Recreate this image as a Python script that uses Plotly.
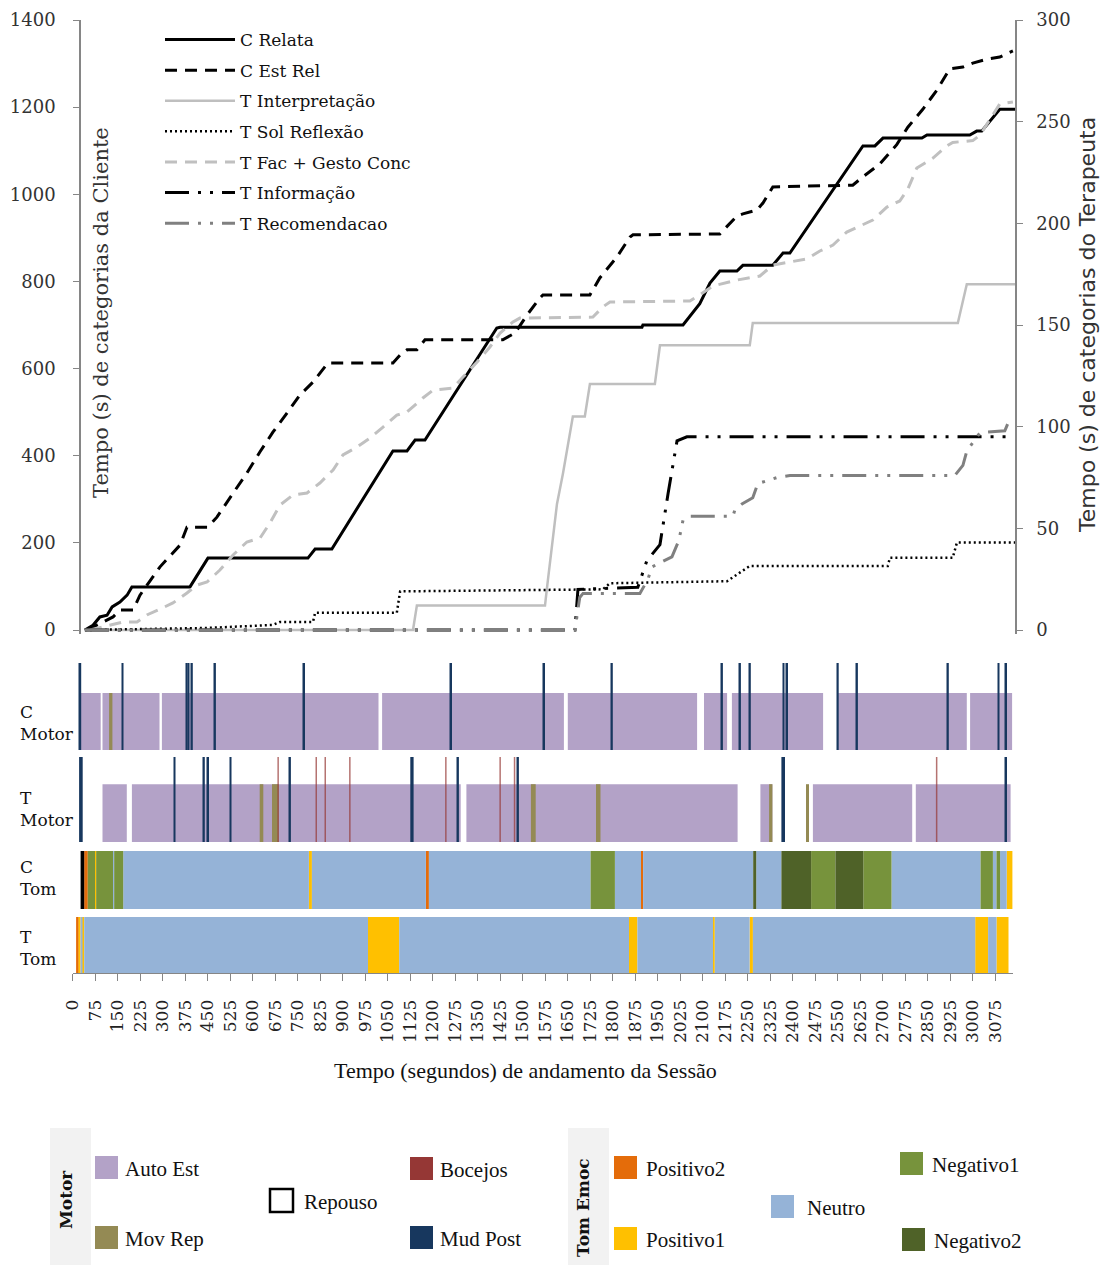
import plotly.graph_objects as go

# ---------------- cumulative time per category (upper panel) ----------------
# client categories (left axis, seconds)
c_relata_t = [13, 40, 63, 87, 104, 130, 154, 170, 364, 424, 758, 782, 838, 1042, 1089, 1116, 1149, 1389, 1400,
              1874, 1877, 2011, 2067, 2101, 2134, 2191, 2211, 2311, 2345, 2368, 2612, 2652, 2679, 2809, 2826,
              2969, 2992, 3009, 3069, 3120]
c_relata_v = [0, 11, 30, 34, 53, 64, 80, 99, 99, 165, 165, 186, 186, 411, 411, 436, 436, 693, 695,
              695, 700, 700, 749, 796, 824, 824, 837, 837, 865, 865, 1111, 1111, 1129, 1129, 1136,
              1136, 1145, 1145, 1195, 1195]

c_est_rel_t = [20, 107, 130, 174, 197, 264, 331, 354, 424, 454, 508, 554, 598, 641, 688, 731, 775, 825, 1042, 1066,
               1089, 1122, 1149, 1409, 1450, 1490, 1533, 1543, 1700, 1733, 1790, 1834, 1844, 2134, 2191,
               2211, 2258, 2278, 2311, 2578, 2612, 2669, 2725, 2762, 2812, 2859, 2902, 2946, 2979, 3026,
               3069, 3113]
c_est_rel_v = [0, 30, 46, 46, 80, 145, 195, 236, 236, 259, 314, 360, 409, 454, 498, 539, 569, 613, 613, 631,
               643, 643, 666, 666, 682, 723, 762, 769, 769, 808, 856, 902, 907, 909, 950,
               955, 964, 980, 1017, 1021, 1040, 1070, 1114, 1154, 1195, 1239, 1288, 1292, 1301, 1310,
               1315, 1329]

# therapist categories (right axis, seconds)
t_interp_t = [13, 1109, 1122, 1550, 1556, 1590, 1610, 1633, 1643, 1683, 1700, 1917, 1934, 2234, 2244, 2929, 2959, 3120]
t_interp_v = [0, 0, 12, 12, 20, 62, 77, 97, 105, 105, 121, 121, 140, 140, 151, 151, 170, 170]

t_sol_t = [13, 421, 641, 665, 775, 782, 1055, 1066, 1743, 1767, 2158, 2201, 2234, 2695, 2702, 2912, 2926, 3120]
t_sol_v = [0, 1, 2.5, 4, 4, 8.5, 8.5, 19, 20, 23, 24, 28, 31.5, 31.5, 35.5, 35.5, 43, 43]

t_fac_t = [30, 120, 140, 187, 220, 264, 307, 354, 387, 421, 464, 508, 554, 598, 631, 665, 708, 755, 798, 842,
           875, 922, 965, 1009, 1055, 1089, 1142, 1176, 1242, 1276, 1323, 1366, 1400, 1443, 1466, 1710, 1743,
           1767, 2034, 2067, 2101, 2111, 2191, 2268, 2311, 2391, 2425, 2468, 2512, 2558, 2602, 2645, 2692,
           2735, 2762, 2792, 2846, 2892, 2912, 2979, 3003, 3036, 3069, 3113]
t_fac_v = [0, 3.4, 3.9, 3.9, 7.4, 10.3, 13.3, 18.2, 22.1, 23.6, 29.5, 36.9, 43.3, 45.2, 52.6, 61.5, 66.4, 67.4,
           72.3, 78.7, 86.1, 90, 94.4, 99.8, 105.7, 107.2, 114.1, 118, 119, 124.4, 131.8, 139.2, 146, 151.5,
           153.4, 153.9, 158.9, 161.3, 161.8, 164.8, 168.2, 169.2, 172.1, 174.1, 179.5, 181.5, 182.5, 186.4,
           189.3, 195.7, 198.7, 201.6, 208, 211, 216.9, 227.2, 232.1, 238, 239.8, 240.7, 243.4, 251.3, 258.7,
           259.7]

t_info_t = [13, 1650, 1660, 1860, 1890, 1934, 1961, 1991, 2024, 3093]
t_info_v = [0, 0, 20, 21, 34, 42, 67, 93, 95, 95]

t_recom_t = [13, 1650, 1666, 1677, 1867, 1894, 1907, 1974, 1997, 2011, 2034, 2178, 2184, 2208, 2244, 2261,
             2325, 2368, 2919, 2936, 2946, 2959, 3003, 3086, 3103]
t_recom_v = [0, 0, 16, 18, 18, 25, 31, 36, 44, 54, 56, 56, 59, 62, 65, 72, 75, 76, 76, 79, 81, 88, 97, 98, 104]

# ---------------- coded behaviour timelines (lower panel), [start, end] in s ----------------
c_motor_auto_est = [(25, 94), (100, 290), (298, 1020), (1032, 1638), (1651, 2082), (2105, 2182),
                    (2198, 2502), (2551, 2981), (2992, 3132)]
c_motor_mov_rep = [(122, 133)]
c_motor_mud_post = [(23, 29), (164, 170), (378, 384), (385, 390), (395, 401), (472, 478), (769, 775),
                    (1259, 1265), (1569, 1575), (1795, 1801), (2162, 2168), (2222, 2228), (2255, 2261),
                    (2367, 2373), (2379, 2385), (2548, 2554), (2612, 2618), (2915, 2921), (3084, 3090),
                    (3109, 3115)]

t_motor_auto_est = [(100, 181), (198, 1294), (1313, 2217), (2293, 2333), (2468, 2799), (2811, 3127)]
t_motor_mov_rep = [(624, 636), (665, 687), (1528, 1544), (1745, 1760), (2322, 2333), (2445, 2455)]
t_motor_mud_post = [(22, 34), (337, 343), (435, 441), (449, 455), (524, 530), (722, 728), (1126, 1137),
                    (1282, 1288), (1482, 1488), (2363, 2375), (3109, 3115)]
t_motor_bocejos = [(683, 688), (810, 815), (840, 845), (922, 927), (1242, 1247), (1423, 1428),
                   (1471, 1476), (2878, 2883)]

c_tom = [(27, 39, "Indefinido"), (39, 51, "Positivo2"), (51, 75, "Negativo1"), (75, 79, "Positivo1"),
         (79, 135, "Negativo1"), (135, 139, "Neutro"), (139, 169, "Negativo1"), (169, 788, "Neutro"),
         (788, 798, "Positivo1"), (798, 1178, "Neutro"), (1178, 1188, "Positivo2"), (1188, 1727, "Neutro"),
         (1727, 1808, "Negativo1"), (1808, 1895, "Neutro"), (1895, 1902, "Positivo2"), (1902, 2269, "Neutro"),
         (2269, 2279, "Negativo2"), (2279, 2363, "Neutro"), (2363, 2462, "Negativo2"), (2462, 2543, "Negativo1"),
         (2543, 2636, "Negativo2"), (2636, 2730, "Negativo1"), (2730, 3027, "Neutro"), (3027, 3068, "Negativo1"),
         (3068, 3080, "Neutro"), (3080, 3092, "Negativo1"), (3092, 3114, "Neutro"), (3114, 3133, "Positivo1")]

t_tom = [(12, 21, "Positivo2"), (21, 27, "Positivo1"), (27, 31, "Neutro"), (31, 39, "Positivo1"),
         (39, 985, "Neutro"), (985, 1089, "Positivo1"), (1089, 1855, "Neutro"), (1855, 1883, "Positivo1"),
         (1883, 2135, "Neutro"), (2135, 2141, "Positivo1"), (2141, 2257, "Neutro"), (2257, 2268, "Positivo1"),
         (2268, 3009, "Neutro"), (3009, 3052, "Positivo1"), (3052, 3080, "Neutro"), (3080, 3120, "Positivo1")]

# x tick labels of the session time axis
session_ticks = list(range(0, 3076, 75))
session_ticktext = [str(v) for v in session_ticks]

motor_colors = {"Auto Est": "#B3A2C7", "Mov Rep": "#948A54", "Repouso": "#FFFFFF",
                "Bocejos": "#953735", "Mud Post": "#17375E"}
tom_colors = {"Positivo2": "#E46C0A", "Positivo1": "#FFC000", "Neutro": "#95B3D7",
              "Negativo1": "#77933C", "Negativo2": "#4F6228", "Indefinido": "#000000"}

W, H = 1105, 1265
px_x = lambda p: p / W
px_y = lambda p: 1 - p / H

SERIF = "DejaVu Serif"
fig = go.Figure()

# ---------------- upper panel lines ----------------
lines = [
    ("C Relata", c_relata_t, c_relata_v, "y", "#000000", "solid", 3),
    ("C Est Rel", c_est_rel_t, c_est_rel_v, "y", "#000000", "12px,8px", 3),
    ("T Interpretação", t_interp_t, t_interp_v, "y2", "#BFBFBF", "solid", 2.5),
    ("T Sol Reflexão", t_sol_t, t_sol_v, "y2", "#000000", "2px,3px", 2.5),
    ("T Fac + Gesto Conc", t_fac_t, t_fac_v, "y2", "#C0C0C0", "12px,8px", 3),
    ("T Informação", t_info_t, t_info_v, "y2", "#000000", "24px,9px,3px,9px,3px,9px", 3),
    ("T Recomendacao", t_recom_t, t_recom_v, "y2", "#808080", "24px,9px,3px,9px,3px,9px", 3),
]
for name, xs, ys, ax, col, dash, w in lines:
    fig.add_trace(go.Scatter(x=xs, y=ys, name=name, mode="lines", xaxis="x", yaxis=ax,
                             line=dict(color=col, dash=dash, width=w), legendgroup=name,
                             hoverinfo="skip"))


# ---------------- lower panel bars ----------------
def add_segments(segs, yaxis, height, color):
    fig.add_trace(go.Bar(x=[s for s, e in segs], y=[height] * len(segs), width=[e - s for s, e in segs],
                         offset=0, base=0, xaxis="x2", yaxis=yaxis, showlegend=False,
                         marker=dict(color=color, line=dict(width=0)), hoverinfo="skip"))


add_segments(c_motor_auto_est, "y3", 0.655, motor_colors["Auto Est"])
add_segments(c_motor_mov_rep, "y3", 0.655, motor_colors["Mov Rep"])
add_segments(c_motor_mud_post, "y3", 1, motor_colors["Mud Post"])

add_segments(t_motor_auto_est, "y4", 0.68, motor_colors["Auto Est"])
add_segments(t_motor_mov_rep, "y4", 0.68, motor_colors["Mov Rep"])
add_segments(t_motor_mud_post, "y4", 1, motor_colors["Mud Post"])
add_segments(t_motor_bocejos, "y4", 1, "rgba(149,55,53,0.7)")

for row, yax in ((c_tom, "y5"), (t_tom, "y6")):
    for cat, col in tom_colors.items():
        segs = [(s, e) for s, e, c in row if c == cat]
        if segs:
            add_segments(segs, yax, 1, col)

axis_gray = "#868686"
tick_font = dict(family=SERIF, size=18, color="#333333")

fig.update_layout(
    width=W, height=H, margin=dict(l=0, r=0, t=0, b=0, pad=0, autoexpand=False),
    paper_bgcolor="white", plot_bgcolor="rgba(0,0,0,0)",
    barmode="overlay",
    xaxis=dict(domain=[px_x(81), px_x(1015)], range=[0, 3120], visible=False, fixedrange=True,
               automargin=False),
    yaxis=dict(domain=[px_y(633.5), px_y(20)], range=[-8, 1400], tickvals=list(range(0, 1401, 200)),
               showgrid=False, zeroline=False, showline=True, linecolor=axis_gray, linewidth=1.5,
               ticks="outside", ticklen=6, tickcolor=axis_gray, tickfont=tick_font, anchor="x",
               ticklabelstandoff=14, automargin=False),
    yaxis2=dict(overlaying="y", side="right", range=[-8 * 300 / 1400, 300], tickvals=list(range(0, 301, 50)),
                showgrid=False, zeroline=False, showline=True, linecolor=axis_gray, linewidth=1.5,
                ticks="outside", ticklen=6, tickcolor=axis_gray, tickfont=tick_font, anchor="x",
                ticklabelstandoff=10, automargin=False),
    xaxis2=dict(domain=[px_x(72.5), px_x(1013)], range=[0, 3135], anchor="y6",
                tickvals=session_ticks, ticktext=session_ticktext, tickangle=-90,
                ticks="outside", ticklen=7, tickcolor=axis_gray, showline=True, linecolor=axis_gray,
                showgrid=False, zeroline=False, tickfont=dict(family=SERIF, size=17, color="#222222"),
                ticklabelstandoff=12, automargin=False),
    yaxis3=dict(domain=[px_y(750), px_y(663)], range=[0, 1], visible=False, anchor="x2", automargin=False),
    yaxis4=dict(domain=[px_y(842), px_y(757)], range=[0, 1], visible=False, anchor="x2", automargin=False),
    yaxis5=dict(domain=[px_y(909), px_y(851)], range=[0, 1], visible=False, anchor="x2", automargin=False),
    yaxis6=dict(domain=[px_y(973), px_y(917)], range=[0, 1], visible=False, anchor="x2", automargin=False),
    legend=dict(x=px_x(160), y=px_y(22), xanchor="left", yanchor="top", bgcolor="rgba(0,0,0,0)",
                font=dict(family=SERIF, size=17, color="#111111"), itemwidth=70, tracegroupgap=5.5,
                traceorder="grouped"),
    showlegend=True,
)

ann = []
shapes = []
# axis titles
ann.append(dict(x=px_x(101), y=px_y(313), xref="paper", yref="paper", text="Tempo (s) de categorias da Cliente",
                textangle=-90, showarrow=False, xanchor="center", yanchor="middle",
                font=dict(family=SERIF, size=21, color="#333333")))
ann.append(dict(x=px_x(1087), y=px_y(325), xref="paper", yref="paper",
                text="Tempo (s) de categorias do Terapeuta", textangle=-90, showarrow=False,
                xanchor="center", yanchor="middle",
                font=dict(family="DejaVu Sans", size=22, color="#333333")))
ann.append(dict(x=px_x(525), y=px_y(1070), xref="paper", yref="paper",
                text="Tempo (segundos) de andamento da Sessão", showarrow=False,
                xanchor="center", yanchor="middle",
                font=dict(family="Liberation Serif", size=22, color="#111111")))

# row labels
for label, yc in (("C<br>Motor", 723), ("T<br>Motor", 809), ("C<br>Tom", 878), ("T<br>Tom", 948)):
    ann.append(dict(x=px_x(18), y=px_y(yc), xref="paper", yref="paper", text=label, align="left",
                    xanchor="left", yanchor="middle", showarrow=False,
                    font=dict(family=SERIF, size=17, color="#111111")))

# category key below the timelines
shapes.append(dict(type="rect", xref="paper", yref="paper", x0=px_x(50), x1=px_x(91), y0=px_y(1265),
                   y1=px_y(1128), fillcolor="#F2F2F2", line=dict(width=0)))
shapes.append(dict(type="rect", xref="paper", yref="paper", x0=px_x(568), x1=px_x(609), y0=px_y(1265),
                   y1=px_y(1128), fillcolor="#F2F2F2", line=dict(width=0)))
ann.append(dict(x=px_x(66), y=px_y(1200), xref="paper", yref="paper", text="<b>Motor</b>", textangle=-90,
                showarrow=False, xanchor="center", yanchor="middle",
                font=dict(family=SERIF, size=17, color="#111111")))
ann.append(dict(x=px_x(583), y=px_y(1208), xref="paper", yref="paper", text="<b>Tom Emoc</b>", textangle=-90,
                showarrow=False, xanchor="center", yanchor="middle",
                font=dict(family=SERIF, size=17, color="#111111")))

key_items = [
    ("Auto Est", motor_colors["Auto Est"], 95, 1156),
    ("Mov Rep", motor_colors["Mov Rep"], 95, 1226),
    ("Repouso", motor_colors["Repouso"], 270, 1189),
    ("Bocejos", motor_colors["Bocejos"], 410, 1157),
    ("Mud Post", motor_colors["Mud Post"], 410, 1226),
    ("Positivo2", tom_colors["Positivo2"], 614, 1156),
    ("Positivo1", tom_colors["Positivo1"], 614, 1227),
    ("Neutro", tom_colors["Neutro"], 771, 1195),
    ("Negativo1", tom_colors["Negativo1"], 900, 1152),
    ("Negativo2", tom_colors["Negativo2"], 902, 1228),
]
for name, col, x0, y0 in key_items:
    edge = dict(width=2.5, color="#000000") if name == "Repouso" else dict(width=0)
    shapes.append(dict(type="rect", xref="paper", yref="paper", x0=px_x(x0), x1=px_x(x0 + 23),
                       y0=px_y(y0 + 23), y1=px_y(y0), fillcolor=col, line=edge))
    gap = 30 if x0 > 560 else 28
    ann.append(dict(x=px_x(x0 + gap + (4 if name in ("Repouso", "Neutro") else 0)), y=px_y(y0 + 13),
                    xref="paper", yref="paper", text=name, xanchor="left", yanchor="middle",
                    showarrow=False, font=dict(family="Liberation Serif", size=21, color="#111111")))

fig.update_layout(annotations=ann, shapes=shapes)
fig.write_html("out.html")
